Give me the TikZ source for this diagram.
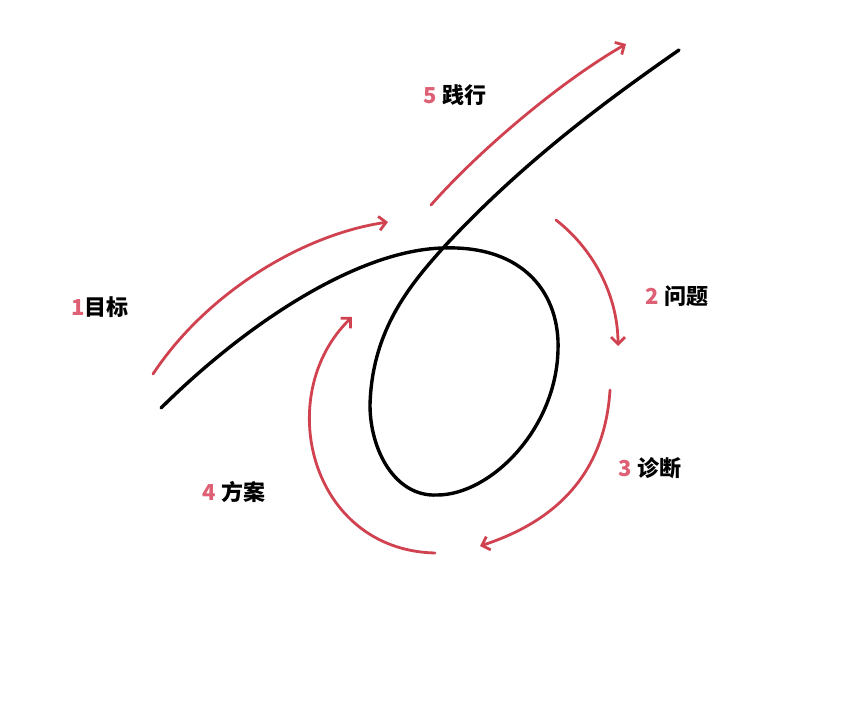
\documentclass[tikz,border=0pt]{standalone}
\usepackage{fontspec}
\newfontfamily\cjk{Noto Sans CJK SC}
\usetikzlibrary{arrows.meta}
\definecolor{loopred}{RGB}{208,66,80}
\definecolor{numred}{RGB}{222,96,116}
\tikzstyle{curve}=[line width=3.4pt,black,line cap=round]
\tikzstyle{redarrow}=[line width=2.8pt,loopred,line cap=round,
-{Straight Barb[length=7pt,width=14pt,line width=2.8pt]}]
\tikzstyle{step label}=[font=\cjk\bfseries\fontsize{22}{26}\selectfont,inner sep=0pt]
\newcommand{\num}[1]{{\color{numred}#1}}

\begin{document}
\begin{tikzpicture}[x=1pt,y=-1pt]
            \useasboundingbox (0,0) rectangle (864,705);

            % THE LOOP

            \coordinate (start) at (161,408);
            \coordinate (cross) at (443,248);
            \coordinate (right) at (558,350);
            \coordinate (bottom) at (437,495);
            \coordinate (left) at (370,405);
            \coordinate (finish) at (679,50);

            \draw[curve] (start) .. controls (250,320) and (360,250) .. (cross)
                .. controls (525,245) and (560,295) .. (right)
                .. controls (556,430) and (490,495) .. (bottom)
                .. controls (395,497) and (370,450) .. (left)
                .. controls (372,330) and (410,285) .. (cross)
                .. controls (520,165) and (600,105) .. (finish);

            % STEP LABELS

            \node[step label] (goal) at (100,307) {\num{1}目标};
            \node[step label] (problem) at (677,296) {\num{2} 问题};
            \node[step label] (diag) at (650,468) {\num{3} 诊断};
            \node[step label] (plan) at (234,492) {\num{4} 方案};
            \node[step label] (act) at (455,95) {\num{5} 践行};

            % ARROWS

            \coordinate (g1) at (153,374);
            \coordinate (g2) at (388,222);
            \coordinate (p1) at (556,220);
            \coordinate (p2) at (618,346);
            \coordinate (d1) at (610,390);
            \coordinate (d2) at (480,546);
            \coordinate (s1) at (435,553);
            \coordinate (s2) at (352,317);
            \coordinate (a1) at (431,205);
            \coordinate (a2) at (626,44);

            \draw[redarrow] (g1) .. controls (205,295) and (300,235) .. (g2);
            \draw[redarrow] (p1) .. controls (597,252) and (618,300) .. (p2);
            \draw[redarrow] (d1) .. controls (605,470) and (560,520) .. (d2);
            \draw[redarrow] (s1) .. controls (310,550) and (272,395) .. (s2);
            \draw[redarrow] (a1) .. controls (475,155) and (555,85) .. (a2);

        \end{tikzpicture}
\end{document}
